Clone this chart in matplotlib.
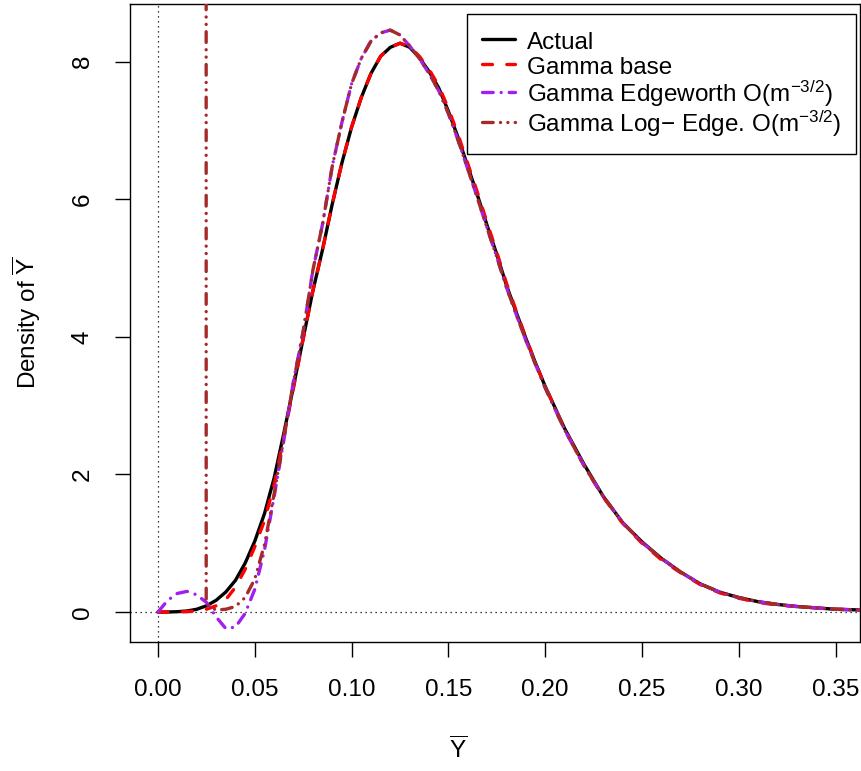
import matplotlib
matplotlib.use("Agg")
import matplotlib.pyplot as plt

plt.rcParams['font.family'] = ['Liberation Sans', 'DejaVu Sans']
plt.rcParams['mathtext.fontset'] = 'custom'
plt.rcParams['mathtext.rm'] = 'Liberation Sans'
plt.rcParams['mathtext.it'] = 'Liberation Sans'
plt.rcParams['mathtext.bf'] = 'Liberation Sans:bold'

# ---- data ----
x_grid = [0.0, 0.005, 0.01, 0.015, 0.02, 0.025, 0.03, 0.035, 0.04, 0.045, 0.05,
          0.055, 0.06, 0.065, 0.07, 0.075, 0.08, 0.085, 0.09, 0.095, 0.10,
          0.105, 0.11, 0.115, 0.12, 0.125, 0.13, 0.135, 0.14, 0.145, 0.15,
          0.155, 0.16, 0.165, 0.17, 0.175, 0.18, 0.185, 0.19, 0.195, 0.20,
          0.21, 0.22, 0.23, 0.24, 0.25, 0.26, 0.27, 0.28, 0.29, 0.30,
          0.31, 0.32, 0.33, 0.34, 0.35, 0.3626]

actual = [0.0, 0.0, 0.005, 0.015, 0.04, 0.09, 0.17, 0.29, 0.46, 0.71, 1.03,
          1.43, 1.95, 2.60, 3.28, 3.98, 4.67, 5.27, 5.93, 6.53, 7.05,
          7.48, 7.83, 8.08, 8.21, 8.27, 8.21, 8.06, 7.86, 7.62, 7.28,
          6.90, 6.48, 6.06, 5.62, 5.20, 4.75, 4.36, 3.98, 3.62, 3.28,
          2.67, 2.15, 1.68, 1.30, 1.02, 0.78, 0.58, 0.41, 0.29, 0.21,
          0.15, 0.11, 0.08, 0.06, 0.04, 0.03]

gamma_base = [0.0, 0.0, 0.0, 0.005, 0.015, 0.04, 0.09, 0.18, 0.36, 0.62, 0.95,
              1.33, 1.85, 2.55, 3.26, 3.97, 4.67, 5.27, 5.93, 6.53, 7.05,
              7.48, 7.83, 8.08, 8.21, 8.27, 8.22, 8.08, 7.89, 7.65, 7.32,
              6.94, 6.52, 6.10, 5.66, 5.23, 4.78, 4.38, 3.99, 3.62, 3.28,
              2.66, 2.13, 1.67, 1.29, 1.00, 0.76, 0.57, 0.40, 0.28, 0.20,
              0.14, 0.10, 0.08, 0.06, 0.04, 0.03]

edgeworth = [0.0, 0.17, 0.27, 0.30, 0.25, 0.14, -0.07, -0.24, -0.22, -0.02, 0.33,
             0.90, 1.68, 2.50, 3.36, 4.08, 4.97, 5.64, 6.48, 7.12, 7.68,
             8.05, 8.30, 8.42, 8.46, 8.39, 8.23, 8.05, 7.83, 7.58, 7.25,
             6.86, 6.44, 6.02, 5.58, 5.16, 4.72, 4.33, 3.95, 3.60, 3.26,
             2.65, 2.13, 1.68, 1.30, 1.01, 0.78, 0.58, 0.41, 0.29, 0.21,
             0.15, 0.11, 0.08, 0.06, 0.04, 0.03]

x_logedge = [0.0248, 0.0249, 0.027, 0.03, 0.035, 0.04, 0.045, 0.05, 0.055,
             0.06, 0.065, 0.07, 0.075, 0.08, 0.085, 0.09, 0.095, 0.10,
             0.105, 0.11, 0.115, 0.12, 0.125, 0.13, 0.135, 0.14, 0.145, 0.15,
             0.155, 0.16, 0.165, 0.17, 0.175, 0.18, 0.185, 0.19, 0.195, 0.20,
             0.21, 0.22, 0.23, 0.24, 0.25, 0.26, 0.27, 0.28, 0.29, 0.30,
             0.31, 0.32, 0.33, 0.34, 0.35, 0.3626]
log_edge = [40.0, 0.13, 0.07, 0.03, 0.04, 0.08, 0.21, 0.48, 0.98,
            1.72, 2.52, 3.35, 4.08, 4.97, 5.64, 6.48, 7.12, 7.68,
            8.05, 8.30, 8.42, 8.46, 8.39, 8.23, 8.05, 7.83, 7.58, 7.25,
            6.86, 6.44, 6.02, 5.58, 5.16, 4.72, 4.33, 3.95, 3.60, 3.26,
            2.65, 2.13, 1.68, 1.30, 1.01, 0.78, 0.58, 0.41, 0.29, 0.21,
            0.15, 0.11, 0.08, 0.06, 0.04, 0.03]

labels = ['Actual', 'Gamma base', r'Gamma Edgeworth O(m$^{-3/2}$)',
          'Gamma Log\u2212 Edge. O(m$^{-3/2}$)']
x_ticks = [0.00, 0.05, 0.10, 0.15, 0.20, 0.25, 0.30, 0.35]
y_ticks = [0, 2, 4, 6, 8]

# ---- figure ----
W, H, DPI = 862, 771, 100
fig = plt.figure(figsize=(W / DPI, H / DPI), dpi=DPI)
ax = fig.add_axes([130 / W, (H - 642) / H, 730 / W, 638 / H])

FS = 17.5
LW = 2.4

ax.axhline(0, color='black', lw=0.9, ls=(0, (1, 3)), zorder=1)
ax.axvline(0, color='black', lw=0.9, ls=(0, (1, 3)), zorder=1)

ax.plot(x_grid, actual, color='black', lw=LW, solid_capstyle='round',
        solid_joinstyle='round', label=labels[0], zorder=2)
ax.plot(x_grid, gamma_base, color='#FF0000', lw=LW, ls=(0, (3.0, 4.3)),
        dash_capstyle='round', label=labels[1], zorder=3)
ax.plot(x_grid, edgeworth, color='#A020F0', lw=LW, ls=(0, (3.2, 2.4, 0.01, 2.4)),
        dash_capstyle='round', label=labels[2], zorder=4)
ax.plot(x_logedge, log_edge, color='#A52A2A', lw=LW,
        ls=(0, (3.2, 2.2, 0.01, 2.2, 0.01, 2.2)),
        dash_capstyle='round', label=labels[3], zorder=5)

ax.set_xlim(-0.01446, 0.3626)
ax.set_ylim(-0.436, 8.84)

ax.set_xticks(x_ticks)
ax.set_xticklabels(['%.2f' % v for v in x_ticks], fontsize=FS)
ax.set_yticks(y_ticks)
ax.set_yticklabels([str(v) for v in y_ticks], fontsize=FS, rotation=90, va='center')
ax.tick_params(axis='both', direction='out', length=11, width=1.0, color='black')
ax.tick_params(axis='x', pad=16)
ax.tick_params(axis='y', pad=15)

for sp in ax.spines.values():
    sp.set_linewidth(1.0)
    sp.set_color('black')

ax.set_xlabel(r'$\mathrm{\overline{Y}}$', fontsize=FS)
ax.xaxis.set_label_coords((458 - 130) / 730, -(750 - 642) / 638)
ax.xaxis.label.set_va('center')
ax.set_ylabel(r'Density of $\mathrm{\overline{Y}}$', fontsize=FS)
ax.yaxis.set_label_coords(-(130 - 27) / 730, (642 - 323) / 638)
ax.yaxis.label.set_va('center')

leg = ax.legend(loc='upper right', bbox_to_anchor=((856 - 130) / 730, (642 - 14) / 638),
                borderaxespad=0, fontsize=FS, frameon=True, fancybox=False,
                edgecolor='black', framealpha=1, handlelength=1.35,
                handleheight=1.12, handletextpad=0.5, borderpad=0.6,
                labelspacing=0.0)
leg.get_frame().set_linewidth(1.0)

fig.savefig('out.png', dpi=DPI)
